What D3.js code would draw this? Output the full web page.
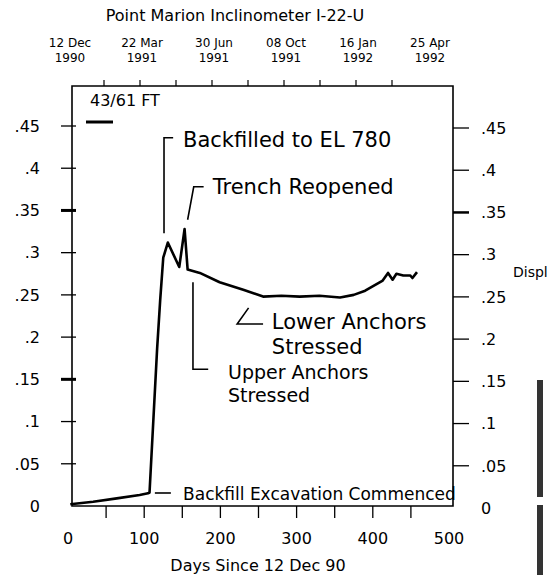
<!DOCTYPE html>
<html>
<head>
<meta charset="utf-8">
<script src="https://cdn.jsdelivr.net/npm/d3@7"></script>
<style>
  body { margin: 0; background: #fff; }
  svg { font-family: "DejaVu Sans", sans-serif; }
</style>
</head>
<body>
<div id="chart"></div>
<script>
// days since 12 Dec 90 and displacement
const days = [3, 33, 64, 94, 105, 107, 117, 121, 125, 131, 146, 153, 157, 173, 199, 230, 256, 280, 304, 330, 357, 375, 390, 413, 420, 426, 431, 440, 449, 452, 458]
const displ = [0.002, 0.005, 0.009, 0.013, 0.015, 0.016, 0.187, 0.244, 0.294, 0.312, 0.283, 0.328, 0.280, 0.276, 0.265, 0.256, 0.248, 0.249, 0.248, 0.249, 0.247, 0.250, 0.255, 0.267, 0.276, 0.268, 0.275, 0.273, 0.273, 0.270, 0.277]

const yTicks = [0, 0.05, 0.1, 0.15, 0.2, 0.25, 0.3, 0.35, 0.4, 0.45]
const yTickLabels = ["0", ".05", ".1", ".15", ".2", ".25", ".3", ".35", ".4", ".45"]
const xTickLabels = [0, 100, 200, 300, 400, 500]
const xMinorTicks = [50, 100, 150, 200, 250, 300, 350, 400, 450]
const topDays = [0, 100, 200, 300, 400, 500]
const topDates = ["12 Dec", "22 Mar", "30 Jun", "08 Oct", "16 Jan", "25 Apr"]
const topYears = ["1990", "1991", "1991", "1991", "1992", "1992"]

// annotations: leader in [day, value] pairs, text anchor [day, value]
const notes = [
  { lines: ["Backfilled to EL 780"], leader: [[138, 0.436], [126, 0.436], [126, 0.323]], at: [151, 0.4254], size: 21 },
  { lines: ["Trench Reopened"], leader: [[178, 0.378], [165, 0.378], [157, 0.339]], at: [190, 0.3697], size: 21 },
  { lines: ["Lower Anchors", "Stressed"], leader: [[237, 0.2346], [222, 0.2156], [256, 0.2156]], at: [267.5, 0.2097], size: 21, gap: 25 },
  { lines: ["Upper Anchors", "Stressed"], leader: [[164, 0.265], [164, 0.162], [184, 0.162]], at: [210, 0.150], size: 19, gap: 23 },
  { lines: ["Backfill Excavation Commenced"], leader: [[114, 0.0154], [135, 0.0154]], at: [151, 0.0071], size: 17 }
]

const width = 550, height = 575
const box = { left: 72, top: 86, right: 453, bottom: 506 }

const x = d3.scaleLinear().domain([0, 500]).range([68, 449])
const xTop = d3.scaleLinear().domain([0, 500]).range([68, 428])
const y = d3.scaleLinear().domain([0, 0.45]).range([506, 126])

const svg = d3.select("#chart")
  .append("svg")
  .attr("width", width)
  .attr("height", height)

svg.append("rect")
  .attr("width", width).attr("height", height).attr("fill", "#fff")

// title
svg.append("text")
  .attr("x", 235).attr("y", 21)
  .attr("text-anchor", "middle")
  .attr("font-size", 16)
  .text("Point Marion Inclinometer I-22-U")

// top date axis
const topG = svg.append("g")
topG.selectAll("line")
  .data(xMinorTicks)
  .enter().append("line")
    .attr("x1", d => xTop(d)).attr("x2", d => xTop(d))
    .attr("y1", 80).attr("y2", box.top)
    .attr("stroke", "#000").attr("stroke-width", 1.2)
topG.selectAll("text.date")
  .data(topDays)
  .enter().append("text")
    .attr("class", "date")
    .attr("x", d => xTop(d) + 2).attr("y", 47)
    .attr("text-anchor", "middle").attr("font-size", 12)
    .text((d, i) => topDates[i])
topG.selectAll("text.year")
  .data(topDays)
  .enter().append("text")
    .attr("class", "year")
    .attr("x", d => xTop(d) + 2).attr("y", 62)
    .attr("text-anchor", "middle").attr("font-size", 12)
    .text((d, i) => topYears[i])

// frame
svg.append("path")
  .attr("d", `M${box.left},${box.bottom}V${box.top}H${box.right}V${box.bottom}Z`)
  .attr("fill", "none").attr("stroke", "#000").attr("stroke-width", 1.6)

// left ticks
svg.selectAll("line.ltick")
  .data(yTicks.slice(1))
  .enter().append("line")
    .attr("class", "ltick")
    .attr("x1", 61).attr("x2", 76)
    .attr("y1", d => y(d)).attr("y2", d => y(d))
    .attr("stroke", "#000")
    .attr("stroke-width", d => (d === 0.35 || d === 0.15) ? 3 : 1.3)
svg.selectAll("text.llab")
  .data(yTicks)
  .enter().append("text")
    .attr("class", "llab")
    .attr("x", 40).attr("y", d => y(d))
    .attr("dy", "0.36em")
    .attr("text-anchor", "end").attr("font-size", 16)
    .text((d, i) => yTickLabels[i])

// right ticks
svg.selectAll("line.rtick")
  .data(yTicks.slice(1))
  .enter().append("line")
    .attr("class", "rtick")
    .attr("x1", box.right).attr("x2", 469)
    .attr("y1", d => y(d) + 2).attr("y2", d => y(d) + 2)
    .attr("stroke", "#000")
    .attr("stroke-width", d => d === 0.35 ? 2.5 : 1.3)
svg.selectAll("text.rlab")
  .data(yTicks)
  .enter().append("text")
    .attr("class", "rlab")
    .attr("x", 481).attr("y", d => y(d) + 2)
    .attr("dy", "0.36em")
    .attr("font-size", 16)
    .text((d, i) => yTickLabels[i])

svg.append("text")
  .attr("x", 513).attr("y", 277)
  .attr("font-size", 14)
  .text("Displ")

// bottom ticks
svg.selectAll("line.btick")
  .data(xMinorTicks)
  .enter().append("line")
    .attr("class", "btick")
    .attr("x1", d => x(d)).attr("x2", d => x(d))
    .attr("y1", box.bottom).attr("y2", box.bottom + 12)
    .attr("stroke", "#000").attr("stroke-width", 1.3)
svg.selectAll("text.blab")
  .data(xTickLabels)
  .enter().append("text")
    .attr("class", "blab")
    .attr("x", d => x(d)).attr("y", 544)
    .attr("text-anchor", "middle").attr("font-size", 16)
    .text(d => d)

svg.append("text")
  .attr("x", 258).attr("y", 571)
  .attr("text-anchor", "middle").attr("font-size", 16)
  .text("Days Since 12 Dec 90")

// legend
svg.append("text")
  .attr("x", 90).attr("y", 106)
  .attr("font-size", 16)
  .text("43/61 FT")
svg.append("line")
  .attr("x1", 86).attr("x2", 113).attr("y1", 122).attr("y2", 122)
  .attr("stroke", "#000").attr("stroke-width", 3)

// data line
const series = days.map((d, i) => [d, displ[i]])
svg.append("path")
  .datum(series)
  .attr("d", d3.line().x(d => x(d[0])).y(d => y(d[1])))
  .attr("fill", "none")
  .attr("stroke", "#000")
  .attr("stroke-width", 2.6)
  .attr("stroke-linejoin", "round")

// annotations
const noteG = svg.selectAll("g.note")
  .data(notes)
  .enter().append("g")
    .attr("class", "note")
noteG.append("path")
  .attr("d", d => d3.line().x(p => x(p[0])).y(p => y(p[1]))(d.leader))
  .attr("fill", "none").attr("stroke", "#000").attr("stroke-width", 1.6)
noteG.each(function (d) {
  const g = d3.select(this)
  d.lines.forEach((t, i) => {
    g.append("text")
      .attr("x", x(d.at[0]))
      .attr("y", y(d.at[1]) + i * (d.gap || 0))
      .attr("font-size", d.size)
      .text(t)
  })
})

// scan edge smudge at the right margin
svg.append("rect")
  .attr("x", 537).attr("y", 380).attr("width", 6).attr("height", 117)
  .attr("fill", "#333")
svg.append("rect")
  .attr("x", 537).attr("y", 505).attr("width", 6).attr("height", 70)
  .attr("fill", "#333")
</script>
</body>
</html>
